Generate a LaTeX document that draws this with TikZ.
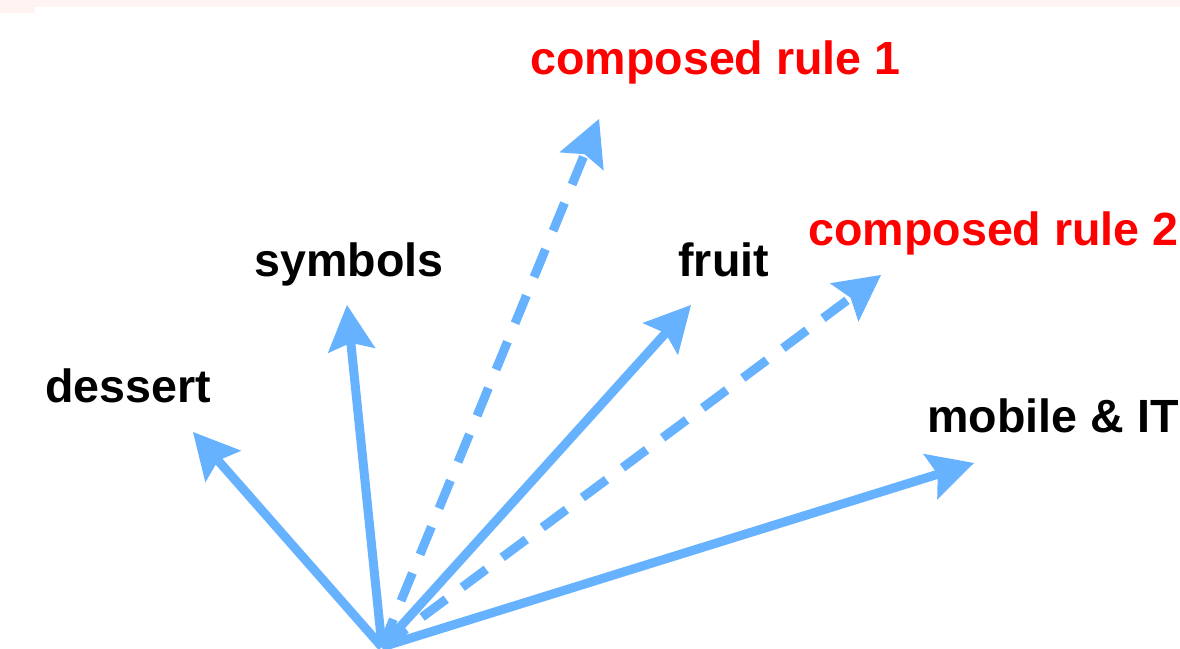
\documentclass[tikz,border=0pt]{standalone}
\usepackage{fontspec}
\setmainfont{Liberation Sans}
\usetikzlibrary{arrows.meta}
\definecolor{arrowblue}{HTML}{66B2FF}
\definecolor{bandpink}{HTML}{FFF4F1}
\definecolor{rulered}{HTML}{FF0000}
\begin{document}
\begin{tikzpicture}[x=0.5pt,y=-0.5pt,
  vec/.style={draw=arrowblue, line width=4.5pt,
    -{Stealth[length=23pt,width=24pt,inset=4pt,line width=0pt]}},
  dvec/.style={vec, dash pattern=on 15pt off 10pt},
  lbl/.style={anchor=base west, inner sep=0pt,
    font=\fontsize{23.3}{28}\selectfont\bfseries},
  rulelbl/.style={lbl, text=rulered}]
\useasboundingbox (0,0) rectangle (1180,649);
\clip (0,0) rectangle (1180,649);
\fill[bandpink] (0,0) rectangle (1180,7);
\fill[bandpink] (0,0) rectangle (35,13);
% labels
\node[rulelbl] (cr1) at (530,74) {composed rule 1};
\node[rulelbl] (cr2) at (808,245) {composed rule 2};
\node[lbl] (sym) at (254,276) {symbols};
\node[lbl] (fru) at (678,276) {fruit};
\node[lbl] (des) at (45,402) {dessert};
\node[lbl] (mob) at (927,432) {mobile \& IT};
% origin and arrow tips
\coordinate (o) at (382,647);
\coordinate (tdes) at (193,432);
\coordinate (tsym) at (347,305);
\coordinate (tcr1) at (599,119);
\coordinate (tfru) at (691,305);
\coordinate (tcr2) at (881,275);
\coordinate (tmob) at (974,463);
% arrows
\draw[vec] (o) -- (tdes);
\draw[vec] (o) -- (tsym);
\draw[dvec] (o) -- (tcr1);
\draw[vec] (o) -- (tfru);
\draw[dvec] (o) -- (tcr2);
\draw[vec] (o) -- (tmob);
\end{tikzpicture}
\end{document}
